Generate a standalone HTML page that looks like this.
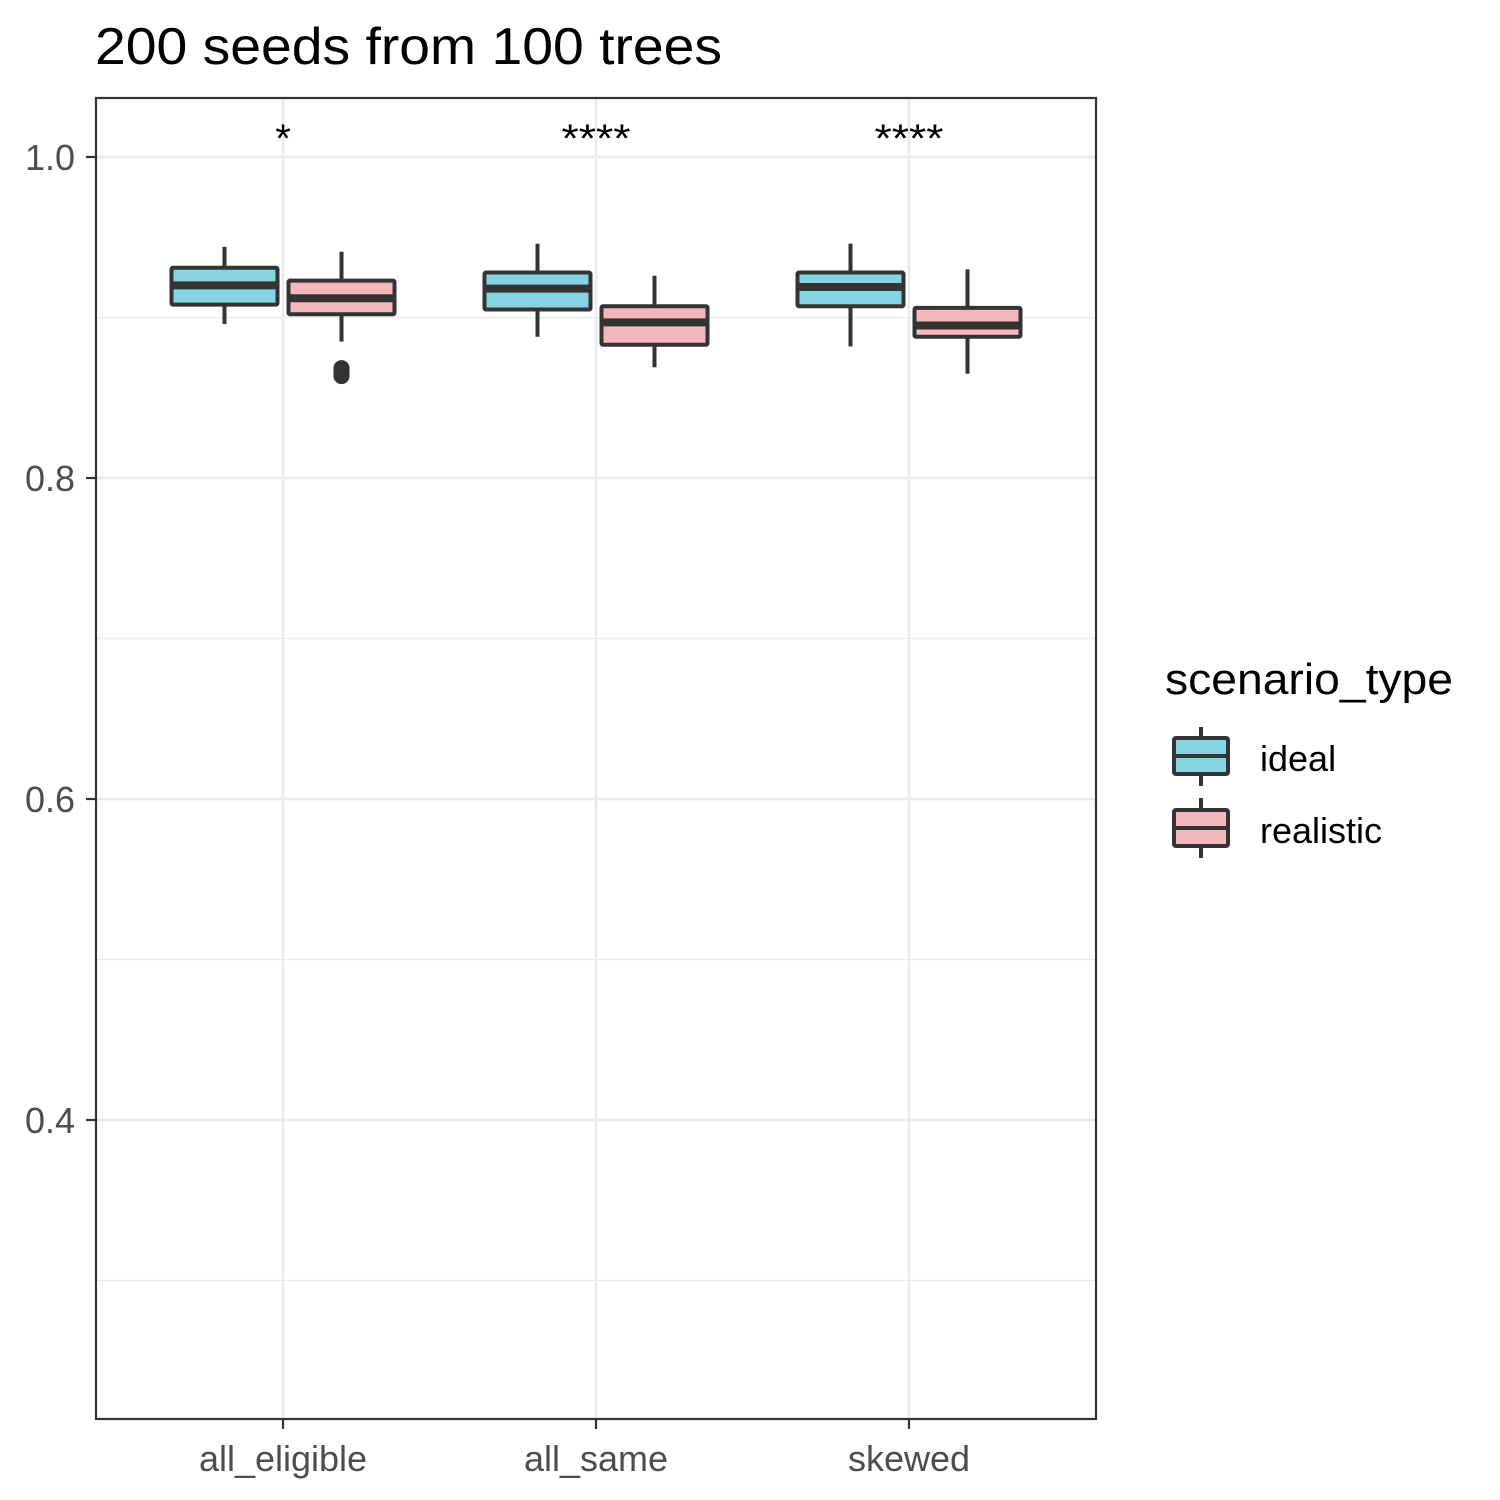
<!DOCTYPE html>
<html><head><meta charset="utf-8"><style>
body{margin:0;background:#fff}
svg{display:block}
text{font-family:"Liberation Sans",Arial,sans-serif}
</style></head><body>
<svg id="chart" width="1500" height="1500" viewBox="0 0 1500 1500" xmlns="http://www.w3.org/2000/svg">
<rect width="1500" height="1500" fill="#fff"/>
<text x="95" y="64" font-size="52" textLength="627" lengthAdjust="spacingAndGlyphs" fill="#000">200 seeds from 100 trees</text>
<g id="grid"></g>
<g id="marks"></g>
<rect x="96" y="98" width="1000" height="1321" fill="none" stroke="#333" stroke-width="2.2"/>
<g id="axes"></g>
<g>
<text x="1165" y="694" font-size="44" textLength="288" lengthAdjust="spacingAndGlyphs" fill="#000">scenario_type</text>
<g>
<line x1="1201" y1="727" x2="1201" y2="786" stroke="#333" stroke-width="4"/>
<rect x="1174" y="738" width="54" height="36" rx="2" fill="#86D4E3" stroke="#333" stroke-width="4"/>
<line x1="1174" y1="756" x2="1228" y2="756" stroke="#333" stroke-width="4"/>
<text x="1260" y="771" font-size="36" fill="#000">ideal</text>
</g>
<g>
<line x1="1201" y1="798" x2="1201" y2="858" stroke="#333" stroke-width="4"/>
<rect x="1174" y="810" width="54" height="36" rx="2" fill="#F5B7BE" stroke="#333" stroke-width="4"/>
<line x1="1174" y1="828" x2="1228" y2="828" stroke="#333" stroke-width="4"/>
<text x="1260" y="843" font-size="36" fill="#000">realistic</text>
</g>
</g>
</svg>
<script>
const categories = ["all_eligible", "all_same", "skewed"];
const groups = ["ideal", "realistic"];
const idealWhiskerHigh = [0.944, 0.946, 0.946];
const idealQ3 = [0.931, 0.928, 0.928];
const idealMedian = [0.920, 0.918, 0.919];
const idealQ1 = [0.908, 0.905, 0.907];
const idealWhiskerLow = [0.896, 0.888, 0.882];
const realWhiskerHigh = [0.941, 0.926, 0.930];
const realQ3 = [0.923, 0.907, 0.906];
const realMedian = [0.912, 0.897, 0.895];
const realQ1 = [0.902, 0.883, 0.888];
const realWhiskerLow = [0.885, 0.869, 0.865];
const outlierCategory = [0];
const outlierValue = [0.866];
const significance = ["*", "****", "****"];
const yTicks = [0.4, 0.6, 0.8, 1.0];
const yMinor = [0.3, 0.5, 0.7, 0.9];

const NS = "http://www.w3.org/2000/svg";
const y = v => 157 + (1.0 - v) * 1605;
const x = i => 283 + i * 313;
function mk(tag, attrs, parent){const e=document.createElementNS(NS,tag);for(const k in attrs)e.setAttribute(k,attrs[k]);parent.appendChild(e);return e;}
const grid=document.getElementById("grid"), marks=document.getElementById("marks"), axes=document.getElementById("axes");

yMinor.forEach(v=>{const l=mk("line",{x1:96,x2:1096,y1:y(v),y2:y(v),stroke:"#EBEBEB","stroke-width":1.3},grid);

});
yTicks.forEach(v=>{const l=mk("line",{x1:96,x2:1096,y1:y(v),y2:y(v),stroke:"#EBEBEB","stroke-width":2.7},grid);

});
categories.forEach((c,i)=>{const l=mk("line",{x1:x(i),x2:x(i),y1:98,y2:1419,stroke:"#EBEBEB","stroke-width":2.7},grid);

});

function box(i, off, wh, q3, med, q1, wl, fill, name){
  const g=mk("g",{},marks);
  
  
  const cx=x(i)+off, hw=53;
  mk("line",{x1:cx,x2:cx,y1:y(wh),y2:y(q3),stroke:"#333","stroke-width":4},g);
  mk("line",{x1:cx,x2:cx,y1:y(q1),y2:y(wl),stroke:"#333","stroke-width":4},g);
  mk("rect",{x:cx-hw,y:y(q3),width:2*hw,height:y(q1)-y(q3),fill:fill,stroke:"#333","stroke-width":4,rx:1.5},g);
  mk("line",{x1:cx-hw,x2:cx+hw,y1:y(med),y2:y(med),stroke:"#333","stroke-width":8},g);
}
categories.forEach((c,i)=>{
  box(i,-58.5,idealWhiskerHigh[i],idealQ3[i],idealMedian[i],idealQ1[i],idealWhiskerLow[i],"#86D4E3","box-ideal-"+c);
  box(i,58.5,realWhiskerHigh[i],realQ3[i],realMedian[i],realQ1[i],realWhiskerLow[i],"#F5B7BE","box-realistic-"+c);
  const t=mk("text",{x:x(i),y:152,"font-size":40,"text-anchor":"middle",fill:"#000"},marks);
  t.textContent=significance[i];
  if(significance[i].length>1){t.setAttribute("textLength",69);t.setAttribute("lengthAdjust","spacingAndGlyphs");}
  
  
});
outlierCategory.forEach((ci,k)=>{
  const e=mk("rect",{x:x(ci)+58.5-8,y:y(outlierValue[k])-12,width:16,height:24,rx:8,fill:"#333"},marks);
  
  
});

yTicks.forEach(v=>{
  mk("line",{x1:86,x2:96,y1:y(v),y2:y(v),stroke:"#333","stroke-width":2.2},axes);
  const t=mk("text",{x:75,y:y(v)+13,"font-size":36,"text-anchor":"end",fill:"#4D4D4D"},axes);
  t.textContent=v.toFixed(1);
  
  
});
categories.forEach((c,i)=>{
  mk("line",{x1:x(i),x2:x(i),y1:1419,y2:1429,stroke:"#333","stroke-width":2.2},axes);
  const t=mk("text",{x:x(i),y:1471,"font-size":36,"text-anchor":"middle",fill:"#4D4D4D"},axes);
  t.textContent=c;
  
  
});
</script>
</body></html>
